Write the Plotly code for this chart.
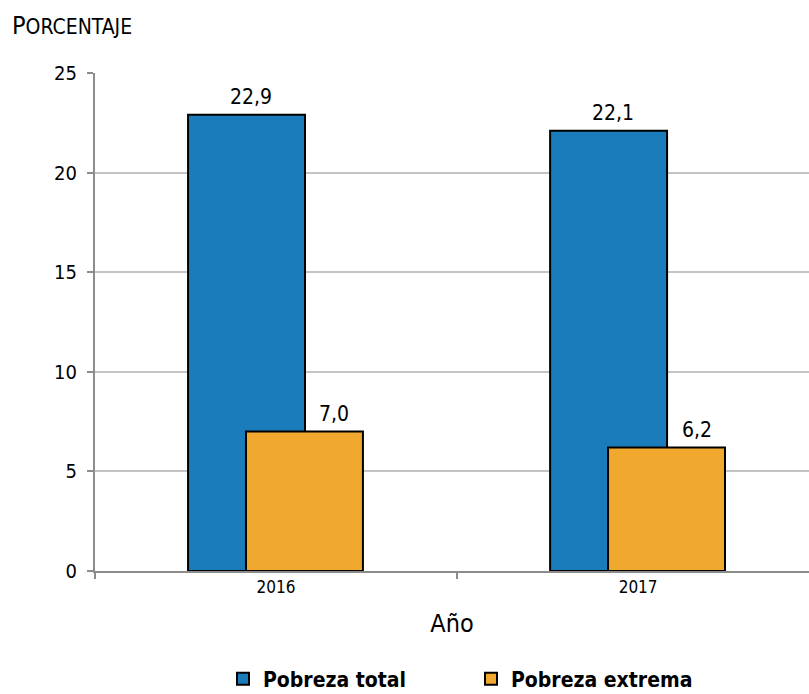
import plotly.graph_objects as go

years = ["2016", "2017"]
pobreza_total = [22.9, 22.1]
pobreza_extrema = [7.0, 6.2]
y_ticks = [0, 5, 10, 15, 20, 25]

FONT = "DejaVu Sans Condensed, Roboto, sans-serif"

BAR_W = 0.323
OFF_TOTAL = -0.243
OFF_EXT = -0.083

fig = go.Figure()
fig.add_trace(go.Bar(
    x=years, y=pobreza_total, name="Pobreza total",
    marker=dict(color="#1A7CBA", line=dict(color="black", width=2)),
    width=BAR_W, offset=OFF_TOTAL,
))
fig.add_trace(go.Bar(
    x=years, y=pobreza_extrema, name="Pobreza extrema",
    marker=dict(color="#F0A82E", line=dict(color="black", width=2)),
    width=BAR_W, offset=OFF_EXT,
))

annotations = []
for series, off, shift in ((pobreza_total, OFF_TOTAL, 4), (pobreza_extrema, OFF_EXT, 30)):
    for i, v in enumerate(series):
        annotations.append(dict(
            x=i + off + BAR_W / 2, y=v, xref="x", yref="y",
            text=f"{v:.1f}".replace(".", ","), showarrow=False,
            yanchor="bottom", yshift=4, xshift=shift,
            font=dict(size=21, family=FONT, color="black"),
        ))

annotations.append(dict(
    text="P<span style='font-size:21px'>ORCENTAJE</span>",
    xref="paper", yref="paper", x=(10 - 95) / 714, y=1 + (73 - 26) / 498,
    xanchor="left", yanchor="middle", showarrow=False,
    font=dict(size=25, family=FONT, color="black"),
))

fig.update_layout(
    width=809, height=694,
    barmode="overlay",
    plot_bgcolor="white", paper_bgcolor="white",
    margin=dict(l=95, r=0, t=73, b=123),
    font=dict(family=FONT, color="black"),
    showlegend=True,
    legend=dict(orientation="h", xref="container", yref="container",
                x=471 / 809, xanchor="center", y=1 - 679 / 694, yanchor="middle",
                font=dict(size=21, family=FONT, weight="bold"), traceorder="normal",
                itemwidth=30, entrywidth=203, entrywidthmode="pixels"),
    xaxis=dict(
        type="category", range=[-0.5, 1.472],
        showline=True, linecolor="#8c8c8c", linewidth=2,
        ticks="outside", tickson="boundaries", ticklen=6, tickcolor="#8c8c8c", tickwidth=2,
        tickfont=dict(size=17, family=FONT),
        title=dict(text="Año", font=dict(size=25, family=FONT), standoff=18),
        showgrid=False,
    ),
    yaxis=dict(
        range=[0, 25], tickvals=y_ticks,
        showline=True, linecolor="#8c8c8c", linewidth=2,
        ticks="outside", ticklen=6, tickcolor="#8c8c8c", tickwidth=2,
        tickfont=dict(size=20, family=FONT), ticklabelstandoff=6,
        showgrid=True, gridcolor="#c4c4c4", gridwidth=2,
        zeroline=False,
    ),
    annotations=annotations,
)

fig.write_html("out.html", config={"displayModeBar": False},
               post_script="document.body.style.margin='0';")
